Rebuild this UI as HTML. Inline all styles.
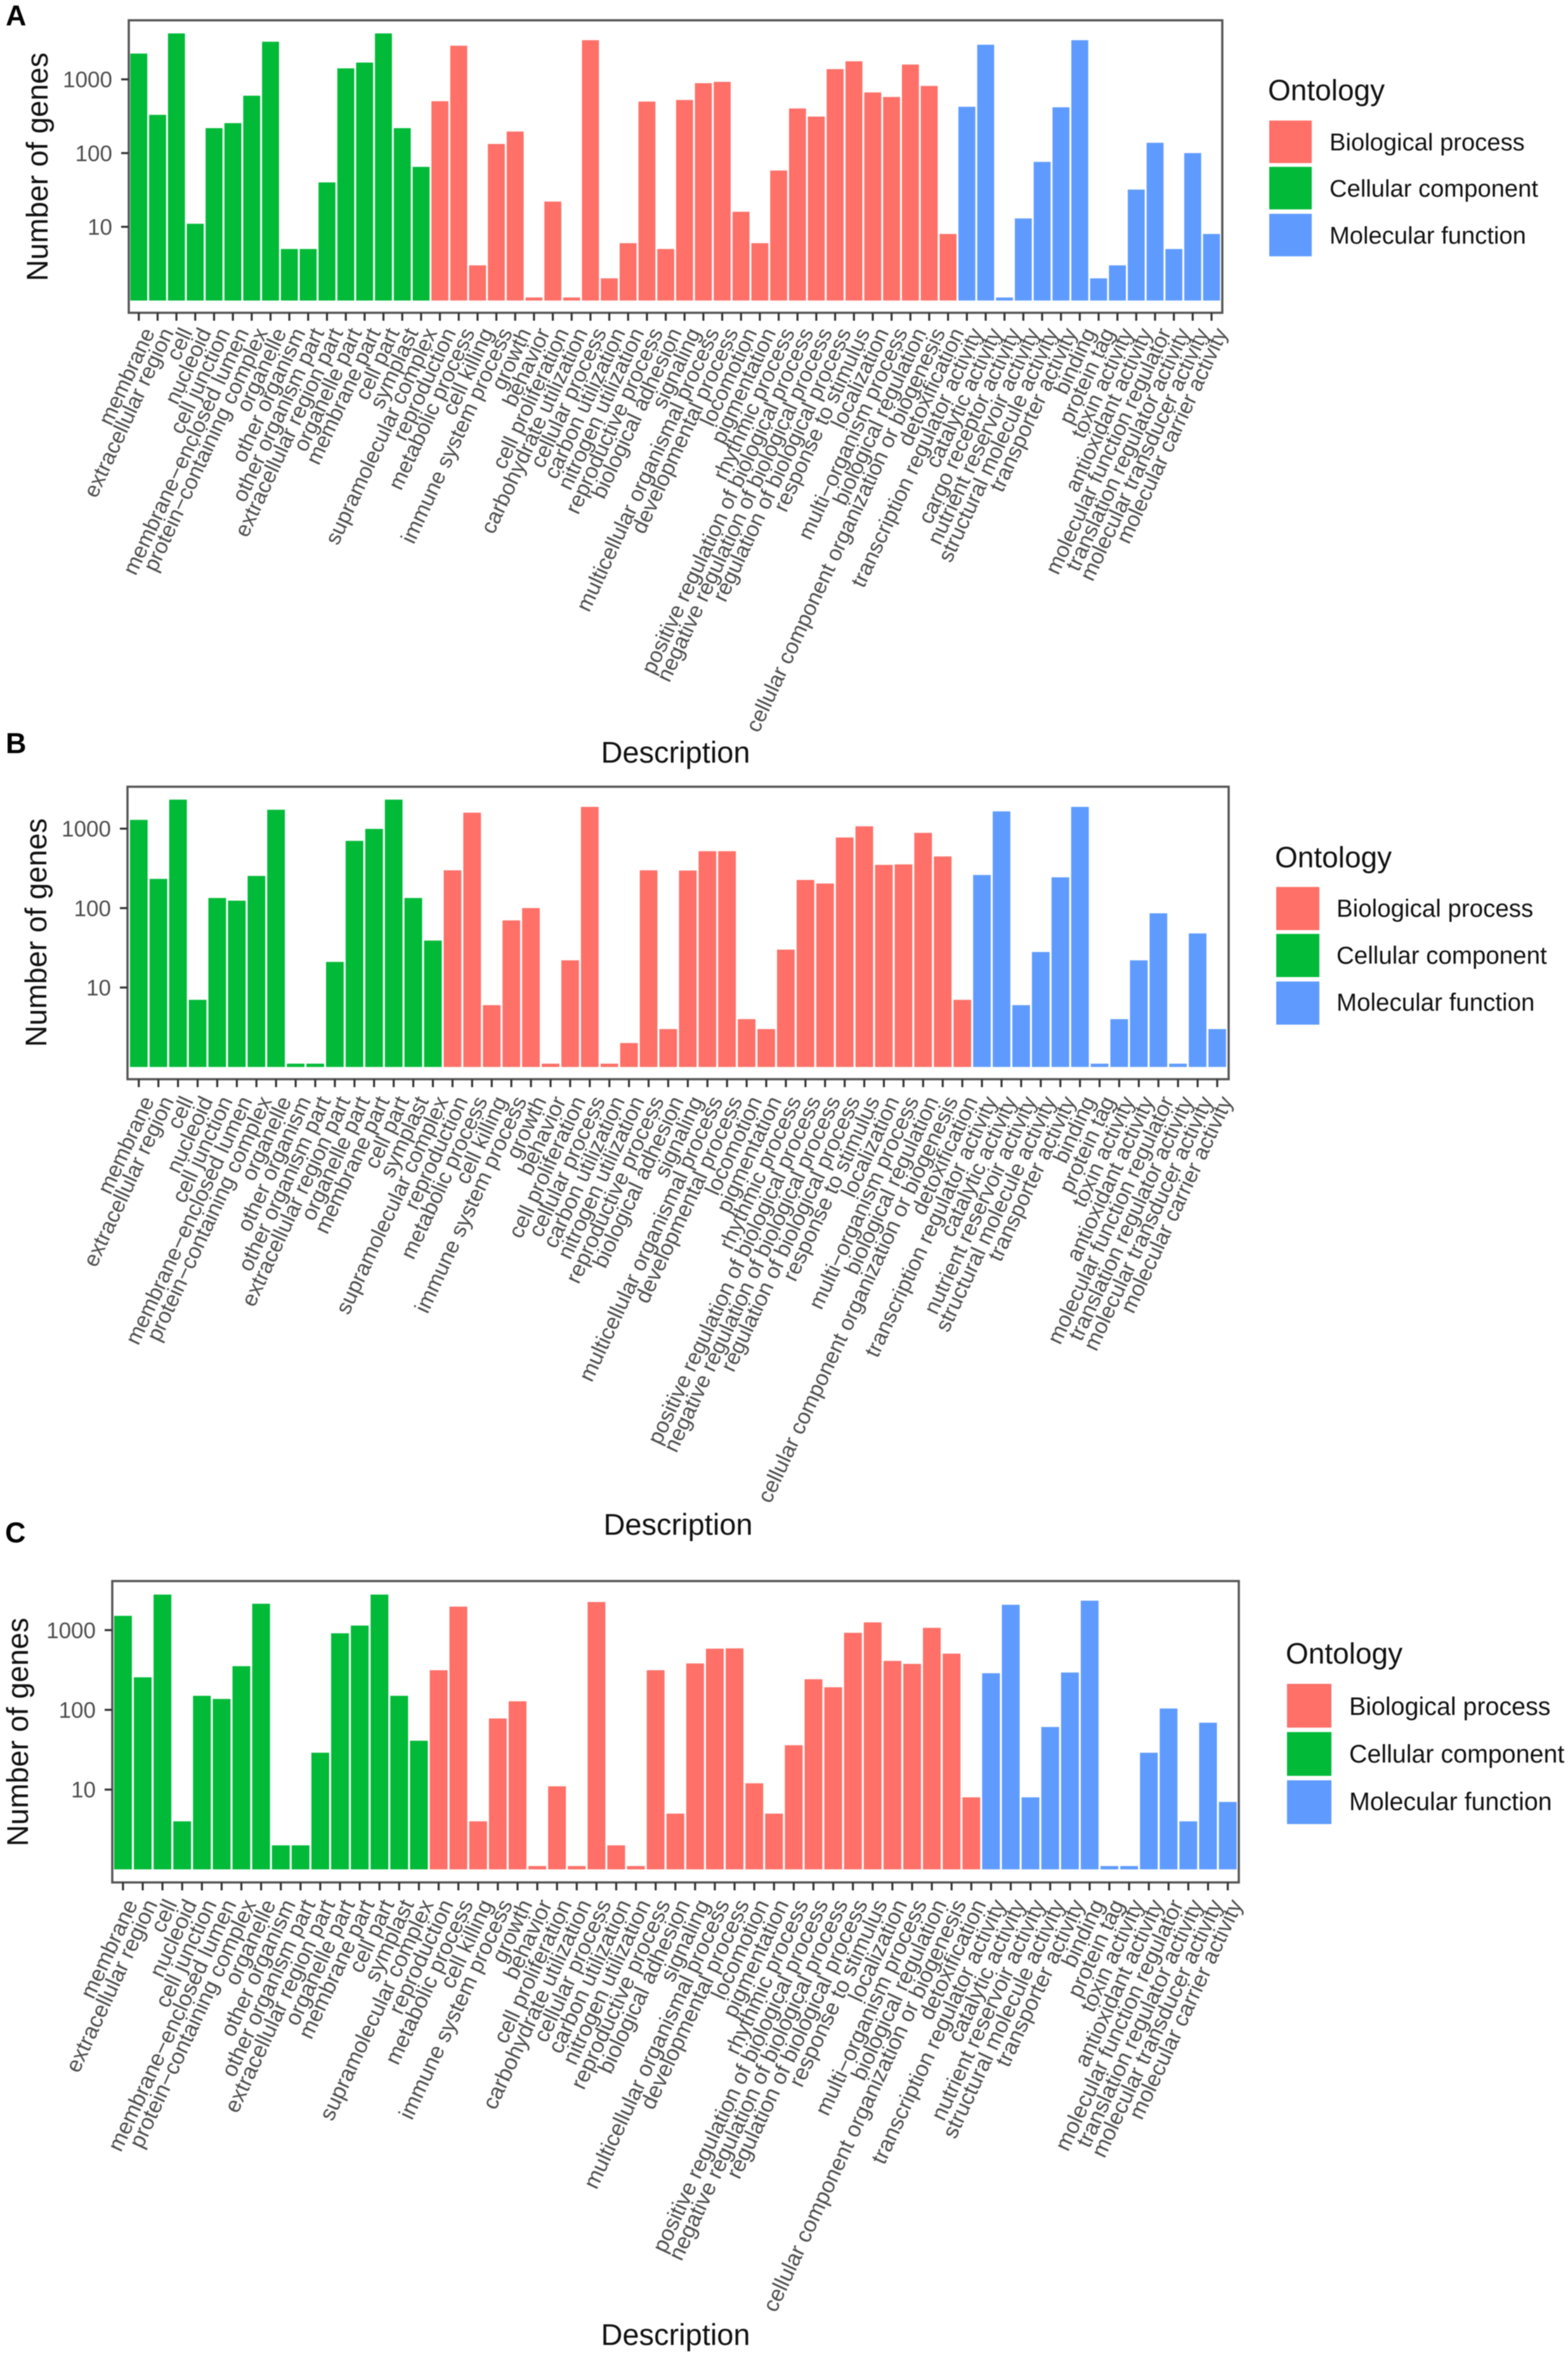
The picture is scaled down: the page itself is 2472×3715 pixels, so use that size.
<!DOCTYPE html>
<html lang="en">
<head>
<meta charset="utf-8">
<title>GO ontology bar charts</title>
<style>
html,body{margin:0;padding:0;background:#fff;}
#figure{display:block;width:2472px;height:3715px;font-family:"Liberation Sans",sans-serif;filter:blur(0.7px);}
.legend-title{font-size:46px;fill:#111;}
.axis-title{font-size:47px;fill:#111;}
.legend-label{font-size:38px;fill:#111;}
.panel-letter{font-size:45px;font-weight:bold;fill:#000;}
</style>
</head>
<body>
<svg id="figure" xmlns="http://www.w3.org/2000/svg" width="2472" height="3715" viewBox="0 0 2472 3715">
  <rect width="2472" height="3715" fill="#fff"/>

  <text class="panel-letter" x="9" y="40">A</text>
  <text class="panel-letter" x="9" y="1187">B</text>
  <text class="panel-letter" x="8" y="2431">C</text>

  <text class="axis-title" x="1065" y="1202" text-anchor="middle">Description</text>
  <text class="axis-title" x="1069" y="2419" text-anchor="middle">Description</text>
  <text class="axis-title" x="1065" y="3696" text-anchor="middle">Description</text>

  <text class="axis-title" transform="translate(75,263) rotate(-90)" text-anchor="middle">Number of genes</text>
  <text class="axis-title" transform="translate(73,1470) rotate(-90)" text-anchor="middle">Number of genes</text>
  <text class="axis-title" transform="translate(44,2730) rotate(-90)" text-anchor="middle">Number of genes</text>

  <g>
    <text class="legend-title" x="1999" y="158">Ontology</text>
    <rect x="2001" y="190" width="67" height="67" fill="#FE7068"/>
    <rect x="2001" y="263" width="67" height="67" fill="#00BA38"/>
    <rect x="2001" y="337" width="67" height="67" fill="#5F9BFF"/>
    <text class="legend-label" x="2096" y="237" style="font-size:38.2px">Biological process</text>
    <text class="legend-label" x="2096" y="310" style="font-size:38.2px">Cellular component</text>
    <text class="legend-label" x="2096" y="384" style="font-size:38.2px">Molecular function</text>
  </g>
  <g>
    <text class="legend-title" x="2010" y="1367">Ontology</text>
    <rect x="2012" y="1398" width="68" height="68" fill="#FE7068"/>
    <rect x="2012" y="1472" width="68" height="68" fill="#00BA38"/>
    <rect x="2012" y="1547" width="68" height="68" fill="#5F9BFF"/>
    <text class="legend-label" x="2107" y="1445" style="font-size:38.5px">Biological process</text>
    <text class="legend-label" x="2107" y="1519" style="font-size:38.5px">Cellular component</text>
    <text class="legend-label" x="2107" y="1593" style="font-size:38.5px">Molecular function</text>
  </g>
  <g>
    <text class="legend-title" x="2027" y="2622">Ontology</text>
    <rect x="2029" y="2654" width="70" height="69" fill="#FE7068"/>
    <rect x="2029" y="2730" width="70" height="69" fill="#00BA38"/>
    <rect x="2029" y="2806" width="70" height="69" fill="#5F9BFF"/>
    <text class="legend-label" x="2127" y="2703" style="font-size:39.4px">Biological process</text>
    <text class="legend-label" x="2127" y="2778" style="font-size:39.4px">Cellular component</text>
    <text class="legend-label" x="2127" y="2853" style="font-size:39.4px">Molecular function</text>
  </g>

  <g id="panel-a"></g>
  <g id="panel-b"></g>
  <g id="panel-c"></g>
</svg>

<script>
const cellularComponentTerms = ["membrane","extracellular region","cell","nucleoid","cell junction","membrane\u2212enclosed lumen","protein\u2212containing complex","organelle","other organism","other organism part","extracellular region part","organelle part","membrane part","cell part","symplast","supramolecular complex"];
const biologicalProcessTerms = ["reproduction","metabolic process","cell killing","immune system process","growth","behavior","cell proliferation","carbohydrate utilization","cellular process","carbon utilization","nitrogen utilization","reproductive process","biological adhesion","signaling","multicellular organismal process","developmental process","locomotion","pigmentation","rhythmic process","positive regulation of biological process","negative regulation of biological process","regulation of biological process","response to stimulus","localization","multi\u2212organism process","biological regulation","cellular component organization or biogenesis","detoxification"];
const molecularFunctionTerms = ["transcription regulator activity","catalytic activity","cargo receptor activity","nutrient reservoir activity","structural molecule activity","transporter activity","binding","protein tag","toxin activity","antioxidant activity","molecular function regulator","translation regulator activity","molecular transducer activity","molecular carrier activity"];

const categoriesA = cellularComponentTerms.concat(biologicalProcessTerms, molecularFunctionTerms);
const categoriesB = categoriesA.filter(t => t !== "carbohydrate utilization" && t !== "cargo receptor activity");
const categoriesC = categoriesA.filter(t => t !== "cargo receptor activity");

const valuesA = [2240,330,4200,11,218,255,600,3240,5,5,40,1410,1690,4200,218,65,
  505,2860,3,133,196,1.1,22,1.1,3400,2,6,500,5,525,888,925,16,6,58,403,313,1377,1758,665,577,1590,815,8,
  425,2950,1.1,13,76,418,3400,2,3,32,138,5,100,8];
const valuesB = [1290,233,2320,7,134,124,254,1730,1.1,1.1,21,702,993,2320,134,39,
  299,1590,6,70,100,1.1,22,1880,1.1,2,299,3,297,520,520,4,3,30,226,204,774,1070,350,355,885,447,7,
  261,1650,6,28,244,1880,1.1,4,22,86,1.1,48,3];
const valuesC = [1510,256,2790,4,150,137,353,2140,2,2,29,912,1140,2790,150,41,
  314,1970,4,78,128,1.1,11,1.1,2250,2,1.1,314,5,382,585,590,12,5,36,242,192,925,1250,411,377,1068,507,8,
  288,2080,8,61,294,2340,1.1,1.1,29,104,4,69,7];

const yTickValues = [1000,100,10];

const layoutA = {id:"panel-a",left:203,right:1927,top:32,bottom:493,firstX:218.8,lastX:1910,y10:357.5,decade:116.2,labelDx:26,labelY:524,labelSize:34.3};
const layoutB = {id:"panel-b",left:201,right:1937,top:1240,bottom:1701,firstX:218.8,lastX:1919,y10:1556.5,decade:125.2,labelDx:25,labelY:1735,labelSize:34.5};
const layoutC = {id:"panel-c",left:177,right:1953,top:2492,bottom:2967,firstX:193.9,lastX:1935.6,y10:2820.7,decade:125.7,labelDx:24,labelY:3001,labelSize:35};

const SVG_NS = "http://www.w3.org/2000/svg";

function ontologyColor(term){
  if (cellularComponentTerms.includes(term)) return "#00BA38";
  if (biologicalProcessTerms.includes(term)) return "#FE7068";
  return "#5F9BFF";
}
function slug(s){ return s.toLowerCase().replace(/[^a-z0-9]+/g,"-"); }

function drawPanel(layout, categories, values){
  const root = document.getElementById(layout.id);
  const step = (layout.lastX - layout.firstX) / (categories.length - 1);
  const xScale = i => layout.firstX + i * step;
  const yScale = v => layout.y10 + layout.decade * (1 - Math.log10(v));
  const baseY = yScale(1);
  const barW = step * 0.9;

  categories.forEach((term, i) => {
    const el = document.createElementNS(SVG_NS, "rect");
    el.setAttribute("x", xScale(i) - barW / 2);
    el.setAttribute("width", barW);
    el.setAttribute("y", yScale(values[i]));
    el.setAttribute("height", baseY - yScale(values[i]));
    el.setAttribute("fill", ontologyColor(term));
    
    
    root.appendChild(el);
  });

  const frame = document.createElementNS(SVG_NS, "rect");
  frame.setAttribute("x", layout.left);
  frame.setAttribute("y", layout.top);
  frame.setAttribute("width", layout.right - layout.left);
  frame.setAttribute("height", layout.bottom - layout.top);
  frame.setAttribute("fill", "none");
  frame.setAttribute("stroke", "#555");
  frame.setAttribute("stroke-width", "3.5");
  
  
  root.appendChild(frame);

  yTickValues.forEach(v => {
    const tick = document.createElementNS(SVG_NS, "line");
    tick.setAttribute("x1", layout.left - 12);
    tick.setAttribute("x2", layout.left);
    tick.setAttribute("y1", yScale(v));
    tick.setAttribute("y2", yScale(v));
    tick.setAttribute("stroke", "#333");
    tick.setAttribute("stroke-width", "3.2");
    
    
    root.appendChild(tick);

    const label = document.createElementNS(SVG_NS, "text");
    label.setAttribute("x", layout.left - 26);
    label.setAttribute("y", yScale(v) + 12.5);
    label.setAttribute("text-anchor", "end");
    label.setAttribute("font-size", "35");
    label.setAttribute("fill", "#4d4d4d");
    
    
    label.textContent = String(v);
    root.appendChild(label);
  });

  categories.forEach((term, i) => {
    const tick = document.createElementNS(SVG_NS, "line");
    tick.setAttribute("x1", xScale(i));
    tick.setAttribute("x2", xScale(i));
    tick.setAttribute("y1", layout.bottom);
    tick.setAttribute("y2", layout.bottom + 12.5);
    tick.setAttribute("stroke", "#333");
    tick.setAttribute("stroke-width", "3.2");
    
    
    root.appendChild(tick);

    const label = document.createElementNS(SVG_NS, "text");
    const ax = xScale(i) + layout.labelDx;
    label.setAttribute("transform", "translate(" + ax + "," + layout.labelY + ") rotate(-65)");
    label.setAttribute("text-anchor", "end");
    label.setAttribute("font-size", layout.labelSize);
    label.setAttribute("fill", "#4d4d4d");
    
    
    label.textContent = term;
    root.appendChild(label);
  });
}

drawPanel(layoutA, categoriesA, valuesA);
drawPanel(layoutB, categoriesB, valuesB);
drawPanel(layoutC, categoriesC, valuesC);
</script>
</body>
</html>
